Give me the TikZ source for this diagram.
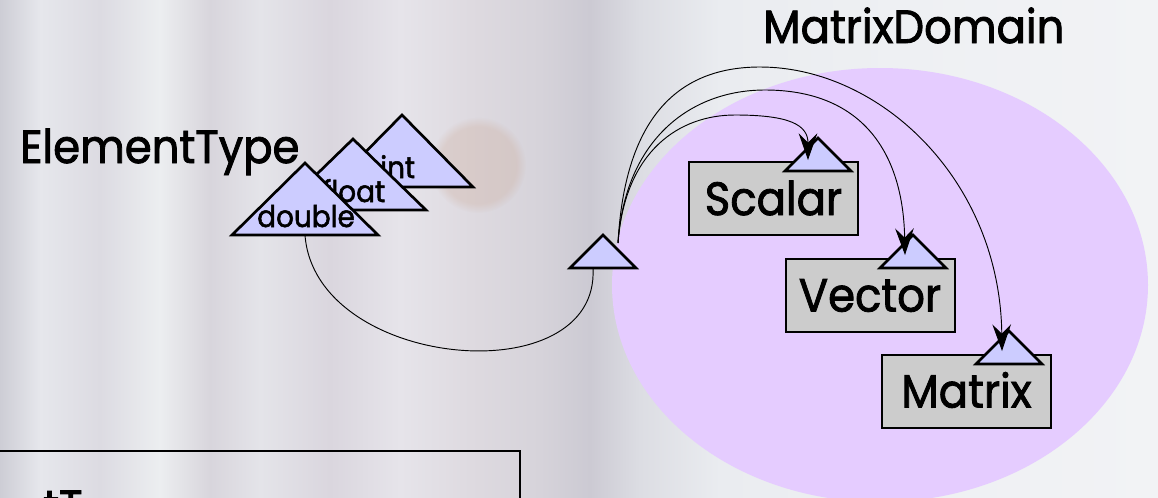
\documentclass[tikz,border=0pt]{standalone}
\usepackage{fontspec}
\setmainfont{Poppins}[FakeBold=1.8,FakeStretch=0.93]
\usetikzlibrary{arrows.meta,fadings,shapes.geometric}
\definecolor{trifill}{HTML}{CCCCFF}
\definecolor{boxfill}{HTML}{CCCCCC}
\definecolor{domfill}{HTML}{E5CCFF}
\definecolor{blobc}{HTML}{C8A088}
\definecolor{bga}{HTML}{CDCDD5}
\definecolor{bgb}{HTML}{E6E7EC}
\definecolor{bgc}{HTML}{DCDBE2}
\definecolor{bgd}{HTML}{ECEEF0}
\definecolor{bge}{HTML}{D8D5DC}
\definecolor{bgf}{HTML}{E4E4E9}
\definecolor{bgg}{HTML}{DAD6DE}
\definecolor{bgh}{HTML}{E6E4EA}
\definecolor{bgi}{HTML}{DEDAE0}
\definecolor{bgj}{HTML}{D6D3DA}
\definecolor{bgk}{HTML}{CCCAD3}
\definecolor{bgl}{HTML}{DCDDE3}
\definecolor{bgm}{HTML}{EAECF0}
\definecolor{bgn}{HTML}{EEF0F3}
\definecolor{bgo}{HTML}{F2F3F5}
\pgfdeclarehorizontalshading{bgshade}{100bp}{color(0bp)=(bga); color(25bp)=(bga); color(26.73bp)=(bgb); color(29.32bp)=(bgc); color(31.91bp)=(bgd); color(34.07bp)=(bge); color(36.23bp)=(bgf); color(39.25bp)=(bgg); color(42.27bp)=(bgh); color(45.29bp)=(bgi); color(48.32bp)=(bgj); color(50.47bp)=(bgk); color(52.63bp)=(bgl); color(56.09bp)=(bgm); color(63.86bp)=(bgn); color(75bp)=(bgo); color(100bp)=(bgo)}
\begin{document}
\begin{tikzpicture}[x=0.75pt,y=-0.75pt,
  tri/.style={draw=black,fill=trifill,line width=2pt,line join=miter},
  cls/.style={draw=black,fill=boxfill,line width=1.5pt,inner sep=0pt,
    minimum width=126.75pt,minimum height=54.75pt,text height=24.8pt,text depth=0pt,
    font=\fontsize{35}{38}\selectfont},
  big/.style={font=\fontsize{35}{38}\selectfont,inner sep=0pt,anchor=base west},
  lbl/.style={font=\fontsize{22.5}{25}\selectfont,inner sep=0pt,anchor=base west},
  link/.style={draw=black,line width=0.7pt},
  arr/.style={link,-{Stealth[length=20pt,width=14pt,inset=7pt]}}]
\useasboundingbox (0,0) rectangle (1158,497);
\clip (0,0) rectangle (1158,497);
% background
\shade[shading=bgshade] (0,0) rectangle (1158,497);
\fill[blobc,opacity=0.25,path fading=circle with fuzzy edge 20 percent] (478,165) circle [radius=36pt];
% domain ellipse
\node[ellipse,fill=domfill,inner sep=0pt,minimum width=402pt,minimum height=325.5pt] (dom) at (880,285) {};
\node[big] (domlabel) at (763,43) {MatrixDomain};
\node[big] (etlabel) at (20,163) {ElementType};
% element type triangles
\draw[tri] (331,187) -- (402,115) -- (473,187) -- cycle;
\node[lbl] (intl) at (380,178) {int};
\draw[tri] (280,210) -- (353,139) -- (426,210) -- cycle;
\node[lbl] (floatl) at (322,202) {float};
\draw[tri] (232,235) -- (305,163) -- (378,235) -- cycle;
\node[lbl] (doublel) at (257,227) {double};
\coordinate (dblB) at (305,235);
% parameter triangle
\draw[tri] (570,268) -- (603,235) -- (636,268) -- cycle;
\coordinate (parIn) at (593,268);
\coordinate (parOut) at (618,243);
% classes
\node[cls] (scalar) at (773.5,198.5) {Scalar};
\node[cls] (vector) at (870,295) {Vector};
\node[cls] (matrix) at (966.5,391) {Matrix};
\draw[tri] (785,171) -- (818,138) -- (851,171) -- cycle;
\draw[tri] (880,268) -- (913,235) -- (946,268) -- cycle;
\draw[tri] (976,364) -- (1009,331) -- (1042,364) -- cycle;
\coordinate (scT) at (808,160);
\coordinate (vcT) at (905,255);
\coordinate (mxT) at (1002,351);
% connectors
\draw[link] (dblB) .. controls (315,370) and (600,395) .. (parIn);
\draw[arr] (parOut) .. controls (625,150) and (680,115) .. (735,115) .. controls (790,115) and (808,125) .. (scT);
\draw[arr] (parOut) .. controls (625,140) and (690,90) .. (765,90) .. controls (860,90) and (903,150) .. (vcT);
\draw[arr] (parOut) .. controls (625,115) and (680,67) .. (760,67) .. controls (880,67) and (1000,180) .. (mxT);
% bottom box
\draw[line width=2pt] (-10,451) rectangle (520,600);
\node[big] (bottomtext) at (43,523) {tT};
\end{tikzpicture}
\end{document}
